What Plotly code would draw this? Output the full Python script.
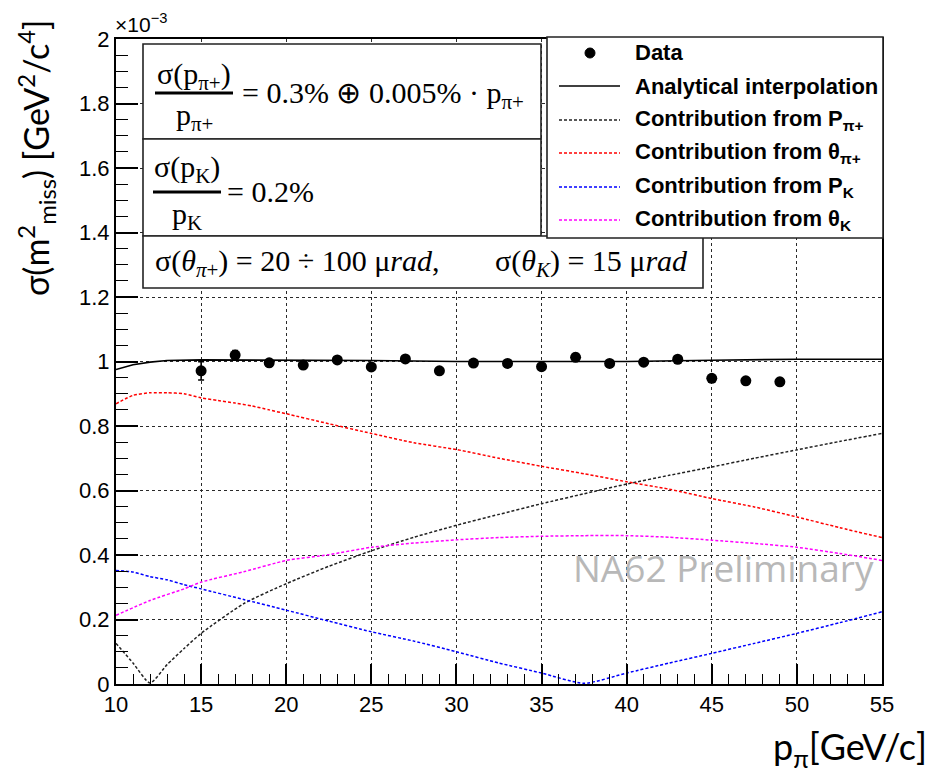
import plotly.graph_objects as go

# ---------------- data ----------------
# measured missing-mass resolution vs pion momentum
p_data = [15, 17, 19, 21, 23, 25, 27, 29, 31, 33, 35, 37, 39, 41, 43, 45, 47, 49]
sigma_data = [0.971, 1.020, 0.996, 0.989, 1.005, 0.983, 1.008, 0.971, 0.995,
              0.994, 0.984, 1.013, 0.994, 0.998, 1.007, 0.948, 0.940, 0.937]
sigma_err = [0.028, 0.014, 0.008, 0.008, 0.008, 0.008, 0.008, 0.008, 0.008,
             0.008, 0.008, 0.012, 0.008, 0.008, 0.008, 0.010, 0.010, 0.010]

# analytical interpolation
x_interp = [10, 11, 12, 13, 15, 20, 25, 30, 35, 40, 45, 50, 55]
y_interp = [0.975, 0.990, 0.998, 1.003, 1.005, 1.005, 1.003, 1.000, 1.000,
            1.000, 1.004, 1.007, 1.007]

# contribution from P_pi+
x_ppi = [10, 11, 12, 13, 14, 15, 17.5, 20, 22.5, 25, 27.5, 30, 32.5, 35, 37.5,
         40, 42.5, 45, 47.5, 50, 52.5, 55]
y_ppi = [0.126, 0.065, 0.003, 0.060, 0.110, 0.157, 0.249, 0.311, 0.365, 0.413,
         0.455, 0.492, 0.526, 0.559, 0.590, 0.620, 0.647, 0.673, 0.700, 0.726,
         0.752, 0.777]

# contribution from theta_pi+
x_thpi = [10, 11, 12, 13, 14, 15, 16, 17, 18, 19, 20, 22.5, 25, 27.5, 30, 32.5,
          35, 37.5, 40, 42.5, 45, 47.5, 50, 52.5, 55]
y_thpi = [0.869, 0.895, 0.903, 0.903, 0.900, 0.887, 0.879, 0.871, 0.862, 0.850,
          0.838, 0.807, 0.777, 0.748, 0.727, 0.700, 0.675, 0.652, 0.627, 0.604,
          0.575, 0.549, 0.518, 0.485, 0.454]

# contribution from P_K
x_pk = [10, 11, 12, 13, 14, 15, 17.5, 20, 22.5, 25, 27.5, 30, 32.5, 35, 37.5,
        40, 42.5, 45, 47.5, 50, 52.5, 55]
y_pk = [0.352, 0.347, 0.333, 0.323, 0.308, 0.295, 0.262, 0.229, 0.195, 0.162,
        0.133, 0.100, 0.065, 0.034, 0.002, 0.034, 0.065, 0.095, 0.126, 0.157,
        0.190, 0.224]

# contribution from theta_K
x_thk = [10, 12, 14, 15, 17.5, 20, 22.5, 25, 27.5, 30, 32.5, 35, 37.5, 40, 42.5,
         45, 47.5, 50, 52.5, 55]
y_thk = [0.213, 0.259, 0.295, 0.316, 0.348, 0.383, 0.401, 0.424, 0.437, 0.447,
         0.454, 0.458, 0.460, 0.460, 0.455, 0.446, 0.436, 0.424, 0.405, 0.383]

x_ticks = [10, 15, 20, 25, 30, 35, 40, 45, 50, 55]
x_ticklabels = ["10", "15", "20", "25", "30", "35", "40", "45", "50", "55"]
y_ticks = [0, 0.2, 0.4, 0.6, 0.8, 1.0, 1.2, 1.4, 1.6, 1.8, 2.0]
y_ticklabels = ["0", "0.2", "0.4", "0.6", "0.8", "1", "1.2", "1.4", "1.6", "1.8", "2"]

legend_labels = [
    "<b>Data</b>",
    "<b>Analytical interpolation</b>",
    "<b>Contribution from P<sub>π+</sub></b>",
    "<b>Contribution from θ<sub>π+</sub></b>",
    "<b>Contribution from P<sub>K</sub></b>",
    "<b>Contribution from θ<sub>K</sub></b>",
]

# ---------------- styling ----------------
W, H = 932, 774
L, R, T, B = 116, 50, 39, 90
PW, PH = W - L - R, H - T - B

SANS = "Liberation Sans, Arial, sans-serif"
SERIF = "Liberation Serif, Times New Roman, serif"
DASH = "3px,2px"
COL_PPI, COL_THPI, COL_PK, COL_THK = "#222222", "#ff0000", "#0000ff", "#ff00ff"


def px(x):
    return (x - L) / PW


def py(y):
    return (H - B - y) / PH


fig = go.Figure()

for xs, ys, col, name in [(x_ppi, y_ppi, COL_PPI, "P_pi"),
                          (x_thpi, y_thpi, COL_THPI, "theta_pi"),
                          (x_pk, y_pk, COL_PK, "P_K"),
                          (x_thk, y_thk, COL_THK, "theta_K")]:
    fig.add_trace(go.Scatter(x=xs, y=ys, mode="lines", name=name,
                             line=dict(color=col, width=1.5, dash=DASH,
                                       shape="spline", smoothing=0.6)))

fig.add_trace(go.Scatter(x=x_interp, y=y_interp, mode="lines",
                         line=dict(color="black", width=1.6), name="interp"))

fig.add_trace(go.Scatter(
    x=p_data, y=sigma_data, mode="markers", name="data",
    marker=dict(color="black", size=11),
    error_y=dict(type="data", array=sigma_err, color="black",
                 thickness=1.5, width=3),
))

axis_common = dict(
    showline=True, linecolor="black", linewidth=2, mirror=True,
    ticks="inside", tickcolor="black", tickwidth=1.5,
    showgrid=True, gridcolor="#2a2a2a", griddash="dot", gridwidth=1,
    zeroline=False,
    tickfont=dict(family=SANS, size=22, color="black"),
)

fig.update_layout(
    width=W, height=H,
    margin=dict(l=L, r=R, t=T, b=B),
    paper_bgcolor="white", plot_bgcolor="white",
    showlegend=False,
    xaxis=dict(range=[10, 55], tickvals=x_ticks, ticktext=x_ticklabels,
               ticklen=20,
               minor=dict(dtick=1, tick0=10, ticks="inside", ticklen=10,
                          tickcolor="black", tickwidth=1, showgrid=False),
               **axis_common),
    yaxis=dict(range=[0, 2], tickvals=y_ticks, ticktext=y_ticklabels,
               ticklen=22,
               minor=dict(dtick=0.05, tick0=0, ticks="inside", ticklen=12,
                          tickcolor="black", tickwidth=1, showgrid=False),
               **axis_common),
)

shapes = []
annotations = []


def box(x0, y0, x1, y1):
    shapes.append(dict(type="rect", xref="paper", yref="paper",
                       x0=px(x0), x1=px(x1), y0=py(y1), y1=py(y0),
                       line=dict(color="#222222", width=1.6),
                       fillcolor="white", layer="above"))


def hline(x0, x1, y, color="black", width=3, dash=None):
    ln = dict(color=color, width=width)
    if dash:
        ln["dash"] = dash
    shapes.append(dict(type="line", xref="paper", yref="paper",
                       x0=px(x0), x1=px(x1), y0=py(y), y1=py(y),
                       line=ln, layer="above"))


def text(x, y, s, size, family, xanchor="left", yanchor="middle",
         color="black", angle=0):
    annotations.append(dict(x=px(x), y=py(y), xref="paper", yref="paper",
                            text=s, showarrow=False, xanchor=xanchor,
                            yanchor=yanchor, textangle=angle,
                            font=dict(size=size, family=family, color=color)))


# resolution formula boxes
box(143, 44, 541, 139)
box(143, 139, 541, 236)
box(143, 236, 703, 288)

text(194, 76, "σ(p<sub>π+</sub>)", 30, SERIF, xanchor="center")
hline(155, 233, 93)
text(194, 117, "p<sub>π+</sub>", 30, SERIF, xanchor="center")
text(240, 95, "= 0.3% ⊕ 0.005% · p<sub>π+</sub>", 30, SERIF)

text(187, 169, "σ(p<sub>K</sub>)", 30, SERIF, xanchor="center")
hline(153, 221, 192)
text(187, 216, "p<sub>K</sub>", 30, SERIF, xanchor="center")
text(225, 192, "= 0.2%", 30, SERIF)

text(153, 263, "σ(<i>θ</i><sub><i>π</i>+</sub>) = 20 ÷ 100 μ<i>rad</i>,", 30, SERIF)
text(493, 263, "σ(<i>θ</i><sub><i>K</i></sub>) = 15 μ<i>rad</i>", 30, SERIF)

# legend panel
box(547, 37, 883, 238)
row_y = [53, 86, 120, 153, 187, 220]
shapes.append(dict(type="circle", xref="paper", yref="paper",
                   x0=px(585), x1=px(595), y0=py(row_y[0] + 5), y1=py(row_y[0] - 5),
                   fillcolor="black", line=dict(color="black", width=1),
                   layer="above"))
hline(559, 620, row_y[1], color="black", width=1.6)
for yy, col in zip(row_y[2:], [COL_PPI, COL_THPI, COL_PK, COL_THK]):
    hline(559, 620, yy, color=col, width=1.5, dash=DASH)
for yy, lab in zip(row_y, legend_labels):
    text(633, yy, lab, 22, SANS)

# exponent of the y scale
text(113, 38, "×10<sup>−3</sup>", 21, SANS, yanchor="bottom")

# watermark
text(723, 567, "NA62 Preliminary", 37, "Open Sans, sans-serif", xanchor="center",
     color="#b8b8b8")

# axis titles
text(36, 158, "σ(m<sup>2</sup><sub>miss</sub>) [GeV<sup>2</sup>/c<sup>4</sup>]",
     34, "Lato, Open Sans, sans-serif", xanchor="center", angle=-90)
text(929, 748, "p<sub>π</sub>[GeV/c]", 36, "Lato, Open Sans, sans-serif",
     xanchor="right")

fig.update_layout(shapes=shapes, annotations=annotations)

fig.write_html("out.html")
